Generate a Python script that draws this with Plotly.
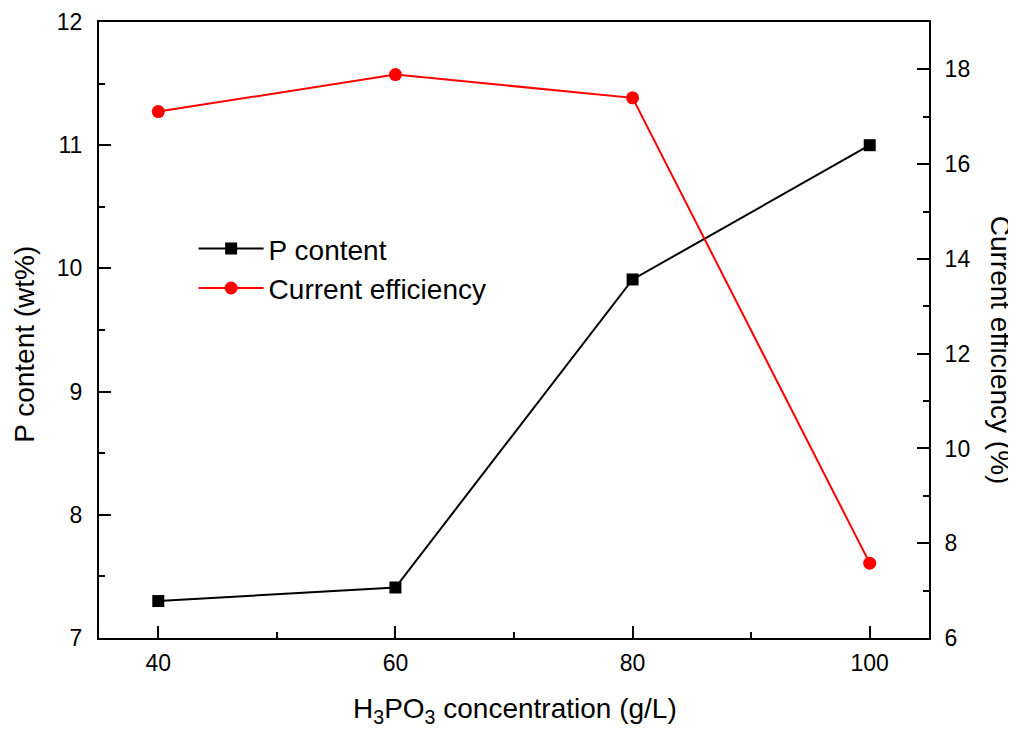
import plotly.graph_objects as go

concentration = [40, 60, 80, 100]
p_content = [7.30, 7.41, 9.91, 11.0]
current_efficiency = [17.11, 17.89, 17.40, 7.58]

x_ticks = [40, 60, 80, 100]
left_ticks = [7, 8, 9, 10, 11, 12]
right_ticks = [6, 8, 10, 12, 14, 16, 18]

FONT = "Liberation Sans, Arial, sans-serif"
TITLE_SIZE = 28

fig = go.Figure()
fig.add_trace(go.Scatter(
    x=concentration, y=p_content, name="P content",
    mode="lines+markers",
    line=dict(color="black", width=2),
    marker=dict(symbol="square", size=12, color="black"),
    yaxis="y"))
fig.add_trace(go.Scatter(
    x=concentration, y=current_efficiency, name="Current efficiency",
    mode="lines+markers",
    line=dict(color="red", width=2),
    marker=dict(symbol="circle", size=13, color="red"),
    yaxis="y2"))

axis_common = dict(
    showgrid=False, zeroline=False, showline=True, linecolor="black", linewidth=2,
    ticks="inside", ticklen=12, tickwidth=2, tickcolor="black",
    tickfont=dict(family=FONT, size=23, color="black"),
    ticklabeloverflow="allow", automargin=False,
)
minor_common = dict(ticks="inside", ticklen=6, tickwidth=2, tickcolor="black", showgrid=False)

# page body has an 8px margin; compensate so the plot area sits where the reference has it
fig.update_layout(
    width=1008, height=723,
    margin=dict(l=91, r=87, t=14, b=93, autoexpand=False),
    paper_bgcolor="white", plot_bgcolor="white",
    font=dict(family=FONT, color="black"),
    xaxis=dict(
        range=[35, 105], tickvals=x_ticks, ticklabelstandoff=3, mirror=True,
        minor=dict(dtick=10, tick0=0, **minor_common),
        **axis_common),
    yaxis=dict(
        range=[7, 12], tickvals=left_ticks, ticklabelstandoff=10,
        minor=dict(dtick=0.5, tick0=0, **minor_common),
        **axis_common),
    yaxis2=dict(
        range=[6, 19], tickvals=right_ticks, overlaying="y", side="right",
        ticklabelstandoff=9,
        minor=dict(dtick=1, tick0=0, **minor_common),
        **axis_common),
    legend=dict(
        x=0.114, y=0.60, xanchor="left", yanchor="middle",
        bgcolor="rgba(0,0,0,0)", borderwidth=0,
        font=dict(family=FONT, size=28, color="black"),
        itemwidth=65, tracegroupgap=0),
    showlegend=True,
)

# axis titles
fig.add_annotation(
    text="H<sub>3</sub>PO<sub>3</sub> concentration (g/L)", xref="paper", yref="paper",
    x=0.501, y=0, yshift=-72, xanchor="center", yanchor="middle", showarrow=False,
    font=dict(family=FONT, size=TITLE_SIZE, color="black"))
fig.add_annotation(
    text="P content (wt%)", xref="paper", yref="paper",
    x=0, xshift=-74, y=0.476, xanchor="center", yanchor="middle",
    textangle=-90, showarrow=False,
    font=dict(family=FONT, size=TITLE_SIZE, color="black"))
fig.add_annotation(
    text="Current efficiency (%)", xref="paper", yref="paper",
    x=1.0, xshift=71, y=0.468, xanchor="center", yanchor="middle",
    textangle=90, showarrow=False,
    font=dict(family=FONT, size=TITLE_SIZE, color="black"))

fig.write_html("out.html")
